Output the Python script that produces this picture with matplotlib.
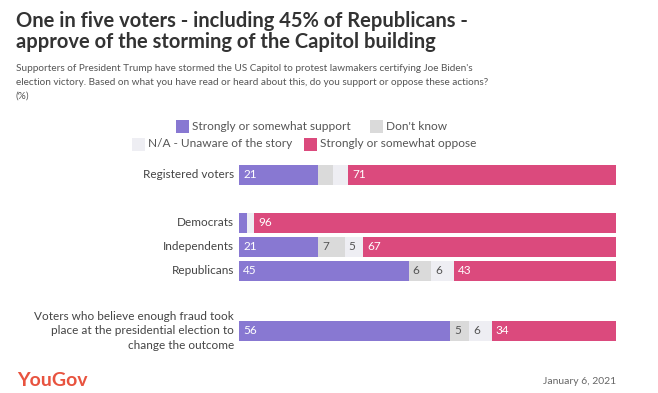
import matplotlib
matplotlib.use("Agg")
import matplotlib.pyplot as plt
from matplotlib.patches import Rectangle

categories = ["Registered voters", "Democrats", "Independents", "Republicans",
              "Voters who believe enough fraud took\nplace at the presidential election to\nchange the outcome"]
support = [21, 2, 21, 45, 56]
dont_know = [4, 0, 7, 6, 5]
unaware = [4, 2, 5, 6, 6]
oppose = [71, 96, 67, 43, 34]
series_names = ["Strongly or somewhat support", "Don't know",
                "N/A - Unaware of the story", "Strongly or somewhat oppose"]

ypos = [0, 2, 3, 4, 6.5]
colors = ["#8878d2", "#dadada", "#eeeef3", "#db4a7d"]
label_colors = ["white", "#555555", "#555555", "white"]

W, H = 658, 393
fig = plt.figure(figsize=(W / 100, H / 100), dpi=100)
plt.rcParams['font.family'] = ['Lato', 'DejaVu Sans']

def fx(px):
    return px / W

def fy(py):
    return 1 - py / H

# axes mapped to pixel area
ax = fig.add_axes([fx(239), fy(343), fx(616) - fx(239), (343 - 163) / H])
ax.set_xlim(0, 100)
ax.set_ylim(7.0, -0.5)
ax.axis("off")

series = [support, dont_know, unaware, oppose]
left = [0] * len(categories)
for s, vals in enumerate(series):
    ax.barh(ypos, vals, left=left, height=0.84, color=colors[s], linewidth=0)
    for i, v in enumerate(vals):
        if v >= 5:
            ax.text(left[i] + 1.1, ypos[i], str(v), va="center", ha="left",
                    fontsize=8.5, color=label_colors[s])
    left = [l + v for l, v in zip(left, vals)]

for c, y in zip(categories, ypos):
    ax.text(-1.3, y, c, ha="right", va="center", fontsize=8.5, color="#444444",
            linespacing=1.35)

# Title and subtitle
fig.text(fx(16), fy(11), "One in five voters - including 45% of Republicans -\napprove of the storming of the Capitol building",
         ha="left", va="top", fontsize=14.5, fontweight="bold", color="#333333", linespacing=1.08)
fig.text(fx(16), fy(64), "Supporters of President Trump have stormed the US Capitol to protest lawmakers certifying Joe Biden's\n"
         "election victory. Based on what you have read or heard about this, do you support or oppose these actions?\n(%)",
         ha="left", va="top", fontsize=7.2, color="#555555", linespacing=1.65)

# Legend (manual, centered rows)
legend_items = [(176, 126, 0), (370, 126, 1), (132, 144, 2), (304, 144, 3)]
for px, py, k in legend_items:
    fig.patches.append(Rectangle((fx(px), fy(py + 7)), 13 / W, 13 / H,
                                 transform=fig.transFigure, color=colors[k], linewidth=0))
    fig.text(fx(px + 16), fy(py), series_names[k], ha="left", va="center",
             fontsize=8.6, color="#555555")

# Footer
fig.text(fx(17), fy(381), "YouGov", ha="left", va="center", fontsize=14,
         fontweight="bold", color="#e8533f")
fig.text(fx(616), fy(381), "January 6, 2021", ha="right", va="center",
         fontsize=7.5, color="#666666")

fig.savefig("out.png", dpi=100, facecolor="white")
